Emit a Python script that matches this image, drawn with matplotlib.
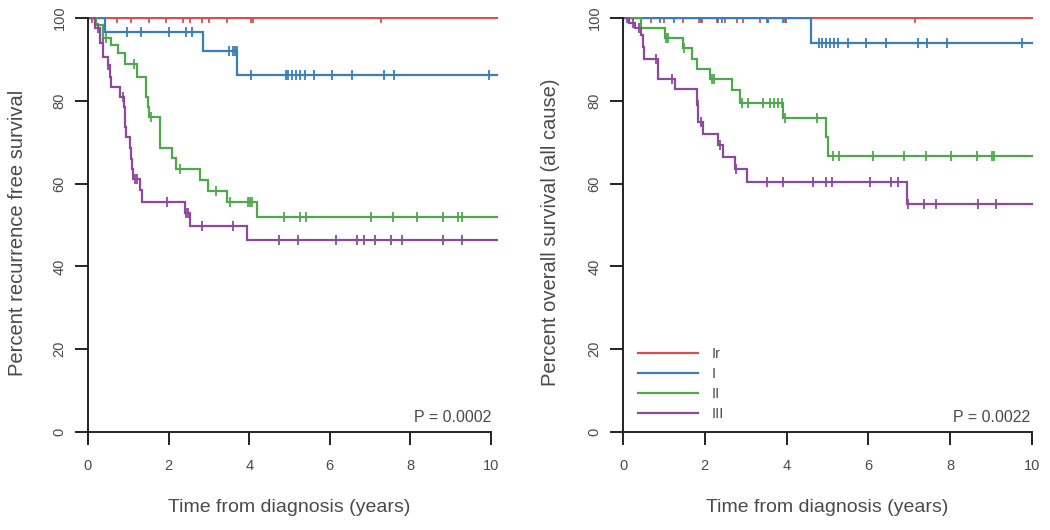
import numpy as np
import matplotlib
matplotlib.use("Agg")
import matplotlib.pyplot as plt

plt.rcParams['font.family'] = ['Liberation Sans', 'DejaVu Sans']

# ---------------- data ----------------
groups = ["Ir", "I", "II", "III"]
colors = ["#d5514f", "#3a7dbb", "#4fa94c", "#8c4a9c"]

# Recurrence-free survival (left)
rfs_end = 10.15
rfs_Ir_times = []
rfs_Ir_surv = []
rfs_Ir_cens = [0.1, 0.2, 0.73, 1.07, 1.52, 1.93, 2.35, 2.54, 2.84, 3.01, 3.46, 4.05, 4.09, 7.27]

rfs_I_times = [0.42, 2.85, 3.70]
rfs_I_surv = [96.5, 92.0, 86.2]
rfs_I_cens = [0.96, 1.31, 2.01, 2.42, 2.57, 3.50, 3.61, 3.65, 3.69, 4.04, 4.92, 4.96,
              5.05, 5.16, 5.26, 5.38, 5.62, 6.05, 6.56, 7.35, 7.59, 9.95]

rfs_II_times = [0.21, 0.38, 0.57, 0.75, 0.93, 1.21, 1.44, 1.48, 1.51, 1.79, 2.09, 2.18,
                2.78, 2.99, 3.44, 4.20]
rfs_II_surv = [98.3, 95.1, 93.5, 91.5, 89.0, 85.8, 81.0, 78.6, 76.2, 68.7, 66.1, 63.5,
               60.9, 58.2, 55.5, 52.0]
rfs_II_cens = [0.44, 1.15, 1.56, 2.28, 3.18, 3.52, 3.98, 4.02, 4.06, 4.86, 5.26, 5.40,
               7.02, 7.56, 8.17, 8.82, 9.19, 9.27]

rfs_III_times = [0.17, 0.30, 0.38, 0.49, 0.55, 0.57, 0.79, 0.90, 0.91, 0.93, 0.95, 1.03,
                 1.06, 1.08, 1.12, 1.29, 1.35, 2.41, 2.53, 3.94]
rfs_III_surv = [97.5, 93.9, 90.7, 88.6, 85.8, 83.4, 81.0, 78.5, 76.0, 73.6, 71.2, 68.5,
                66.0, 63.5, 61.0, 58.5, 55.5, 52.8, 49.8, 46.4]
rfs_III_cens = [0.26, 0.36, 0.50, 0.88, 1.17, 1.22, 1.95, 2.43, 2.49, 2.84, 3.61, 4.75,
                5.22, 6.15, 6.67, 6.85, 7.12, 7.51, 7.78, 8.82, 9.29]

# Overall survival (right)
os_end = 10.0
os_Ir_times = []
os_Ir_surv = []
os_Ir_cens = [0.15, 0.68, 1.01, 1.47, 1.86, 1.94, 2.29, 2.49, 2.78, 2.94, 3.35, 3.96, 7.14]

os_I_times = [4.59]
os_I_surv = [94.0]
os_I_cens = [0.1, 0.90, 1.25, 1.91, 2.33, 2.41, 3.51, 3.55, 3.92, 3.98, 4.80, 4.87, 4.96,
             5.06, 5.16, 5.26, 5.49, 5.93, 6.42, 7.22, 7.44, 7.92, 9.76]

os_II_times = [0.43, 1.03, 1.47, 1.68, 1.82, 2.13, 2.66, 2.86, 3.92, 4.96, 5.02]
os_II_surv = [97.6, 95.1, 92.7, 90.2, 87.8, 85.3, 82.6, 79.4, 75.8, 71.2, 66.7]
os_II_cens = [1.06, 1.10, 1.49, 2.17, 2.22, 2.90, 3.06, 3.43, 3.59, 3.70, 3.80, 3.88, 3.96,
              4.75, 5.14, 5.28, 6.12, 6.88, 7.42, 8.02, 8.65, 9.01, 9.08]

os_III_times = [0.15, 0.30, 0.45, 0.50, 0.52, 0.85, 0.86, 1.27, 1.80, 1.84, 1.95, 2.33,
                2.45, 2.74, 3.04, 6.94]
os_III_surv = [98.7, 97.5, 95.9, 93.0, 90.2, 87.8, 85.3, 82.8, 79.0, 75.0, 72.1, 69.3,
               66.5, 63.6, 60.5, 55.0]
os_III_cens = [0.25, 0.38, 0.80, 1.19, 1.83, 1.91, 2.37, 2.76, 3.51, 3.92, 4.65, 4.96,
               5.12, 6.04, 6.55, 6.72, 6.96, 7.37, 7.65, 8.67, 9.12]

xticks = [0, 2, 4, 6, 8, 10]
yticks = [0, 20, 40, 60, 80, 100]
xlabel = "Time from diagnosis (years)"
ylabel_left = "Percent recurrence free survival"
ylabel_right = "Percent overall survival (all cause)"
p_left = "P = 0.0002"
p_right = "P = 0.0022"

rfs = [(rfs_Ir_times, rfs_Ir_surv, rfs_Ir_cens), (rfs_I_times, rfs_I_surv, rfs_I_cens),
       (rfs_II_times, rfs_II_surv, rfs_II_cens), (rfs_III_times, rfs_III_surv, rfs_III_cens)]
osv = [(os_Ir_times, os_Ir_surv, os_Ir_cens), (os_I_times, os_I_surv, os_I_cens),
       (os_II_times, os_II_surv, os_II_cens), (os_III_times, os_III_surv, os_III_cens)]

# ---------------- figure ----------------
W, H = 1050, 530
fig = plt.figure(figsize=(W / 100, H / 100), dpi=100)
TXT = "#4a4a4a"
AX = "#222222"

def make_ax(left_px, xmax, pxyr):
    return fig.add_axes([left_px / W, 98 / H, pxyr * xmax / W, 414 * 1.003 / H])

axL = make_ax(88, 10.2, 40.3)
axR = make_ax(623, 10.05, 40.9)

def draw(ax, data, end, xmax):
    for (tt, ss, cc), col, lab in zip(data, colors, groups):
        t = np.array([0.0] + list(tt) + [end])
        s = np.array([100.0] + list(ss) + [ss[-1] if len(ss) else 100.0])
        ax.step(t, s, where="post", color=col, lw=1.6, label=lab, solid_joinstyle="miter")
        c = np.array(cc)
        idx = np.searchsorted(t, c, side="right") - 1
        ax.plot(c, s[idx], ls="none", marker="|", ms=7.5, mew=1.3, color=col)
    ax.set_xlim(0, xmax)
    ax.set_ylim(0, 100.3)
    for sp in ["top", "right"]:
        ax.spines[sp].set_visible(False)
    ax.spines["left"].set_bounds(0, 100)
    ax.spines["bottom"].set_bounds(0, 10)
    for sp in ["left", "bottom"]:
        ax.spines[sp].set_linewidth(1.4)
        ax.spines[sp].set_color(AX)
    ax.set_xticks(xticks)
    ax.set_yticks(yticks)
    ax.set_xticklabels([str(v) for v in xticks])
    ax.set_yticklabels([str(v) for v in yticks], rotation=90, va="center")
    ax.tick_params(axis="both", length=9.5, width=1.4, color=AX, labelcolor=TXT, labelsize=10.5)
    ax.tick_params(axis="x", pad=10)
    ax.tick_params(axis="y", pad=6)
    ax.set_xlabel(xlabel, fontsize=14, color=TXT)
    ax.xaxis.set_label_coords(5.0 / xmax, -0.183)
    ax.xaxis.label.set_va("center")
    ax.patch.set_alpha(0)

draw(axL, rfs, rfs_end, 10.2)
draw(axR, osv, os_end, 10.05)

axL.set_ylabel(ylabel_left, fontsize=14.5, color=TXT)
axL.yaxis.set_label_coords(-(88 - 18) / 411, 0.48)
axL.yaxis.label.set_va("center")
axR.set_ylabel(ylabel_right, fontsize=14.5, color=TXT)
axR.yaxis.set_label_coords(-(623 - 551) / 411, 0.48)
axR.yaxis.label.set_va("center")

axL.text(10.0, 3.6, p_left, ha="right", va="center", fontsize=11.5, color=TXT)
axR.text(9.95, 3.6, p_right, ha="right", va="center", fontsize=11.5, color=TXT)

leg = axR.legend(loc="upper left", bbox_to_anchor=(0.36 / 10.05, 20.6 / 100.3), frameon=False,
                 fontsize=10.5, handlelength=4.1, handletextpad=1.0, labelspacing=0.42,
                 borderpad=0, borderaxespad=0)
for t in leg.get_texts():
    t.set_color(TXT)

fig.savefig("out.png", dpi=100)
